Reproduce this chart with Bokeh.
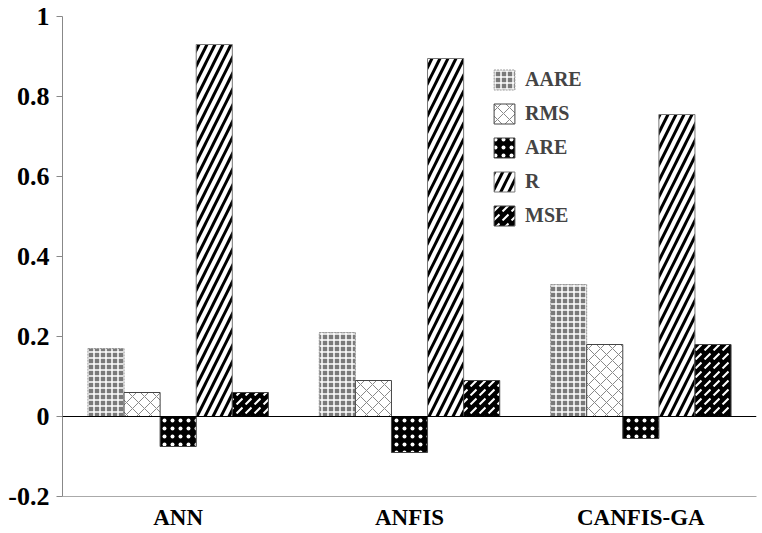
from bokeh.plotting import figure
from bokeh.models import FactorRange, Range1d, FixedTicker, CustomJSTickFormatter, Span, Legend, LegendItem, ColumnDataSource
from bokeh.transform import dodge
from bokeh.embed import file_html
from bokeh.resources import INLINE

models = ["ANN", "ANFIS", "CANFIS-GA"]
aare = [0.17, 0.21, 0.33]
rms = [0.06, 0.09, 0.18]
are = [-0.075, -0.09, -0.055]
r = [0.93, 0.895, 0.755]
mse = [0.06, 0.09, 0.18]
y_ticks = [-0.2, 0, 0.2, 0.4, 0.6, 0.8, 1.0]

src = ColumnDataSource(dict(model=models, AARE=aare, RMS=rms, ARE=are, R=r, MSE=mse))

FONT = "Liberation Serif"
p = figure(x_range=FactorRange(*models), y_range=Range1d(-0.2, 1.0),
           width=762, height=533, output_backend="svg", toolbar_location=None,
           min_border_left=62, min_border_top=16, min_border_right=6, min_border_bottom=37)
p.outline_line_color = None
p.xgrid.grid_line_color = None
p.ygrid.grid_line_color = None

w = 0.156
styles = [
    ("AARE", -2 * w, dict(fill_color="#7a7a7a", hatch_pattern="cross", hatch_color="white", hatch_weight=1.5, hatch_scale=6, line_color="#999999", line_dash="2 1")),
    ("RMS", -w, dict(fill_color="white", hatch_pattern="diagonal_cross", hatch_color="#888888", hatch_weight=1, hatch_scale=12, line_color="#444444")),
    ("ARE", 0, dict(fill_color="black", hatch_pattern="dot", hatch_color="white", hatch_weight=0.5, hatch_scale=8, line_color="#444444")),
    ("R", w, dict(fill_color="white", hatch_pattern="right_diagonal_line", hatch_color="black", hatch_weight=3, hatch_scale=16, line_color="#777777")),
    ("MSE", 2 * w, dict(fill_color="black", hatch_pattern="right_diagonal_dash", hatch_color="white", hatch_weight=2, hatch_scale=9, line_color="#444444")),
]
items = []
for name, off, st in styles:
    rr = p.vbar(x=dodge("model", off, range=p.x_range), top=name, bottom=0, width=w, source=src, line_width=1, **st)
    items.append(LegendItem(label=name, renderers=[rr]))

p.add_layout(Span(location=0, dimension="width", line_color="black", line_width=1))

legend = Legend(items=items, location=(429, 268), padding=0, margin=0, spacing=9,
                glyph_width=26, glyph_height=25, label_height=25, label_standoff=8,
                label_text_font=FONT, label_text_font_style="bold", label_text_font_size="20px",
                background_fill_alpha=0, border_line_color=None)
p.add_layout(legend, "center")

p.yaxis.ticker = FixedTicker(ticks=y_ticks)
p.yaxis.formatter = CustomJSTickFormatter(code="return tick.toFixed(1).replace(/\\.0$/, '');")
p.yaxis.axis_line_color = "#888888"
p.yaxis.major_tick_line_color = "#888888"
p.yaxis.major_tick_out = 6
p.yaxis.major_tick_in = 0
p.yaxis.minor_tick_line_color = None
p.yaxis.major_label_text_font = FONT
p.yaxis.major_label_text_font_style = "bold"
p.yaxis.major_label_text_font_size = "26px"
p.yaxis.major_label_text_color = "black"
p.yaxis.major_label_standoff = 7

p.xaxis.axis_line_color = "#aaaaaa"
p.xaxis.major_tick_line_color = None
p.xaxis.minor_tick_line_color = None
p.xaxis.major_label_text_font = FONT
p.xaxis.major_label_text_font_style = "bold"
p.xaxis.major_label_text_font_size = "23px"
p.xaxis.major_label_text_color = "black"
p.xaxis.major_label_standoff = 2

open("out.html", "w").write(file_html(p, INLINE))
